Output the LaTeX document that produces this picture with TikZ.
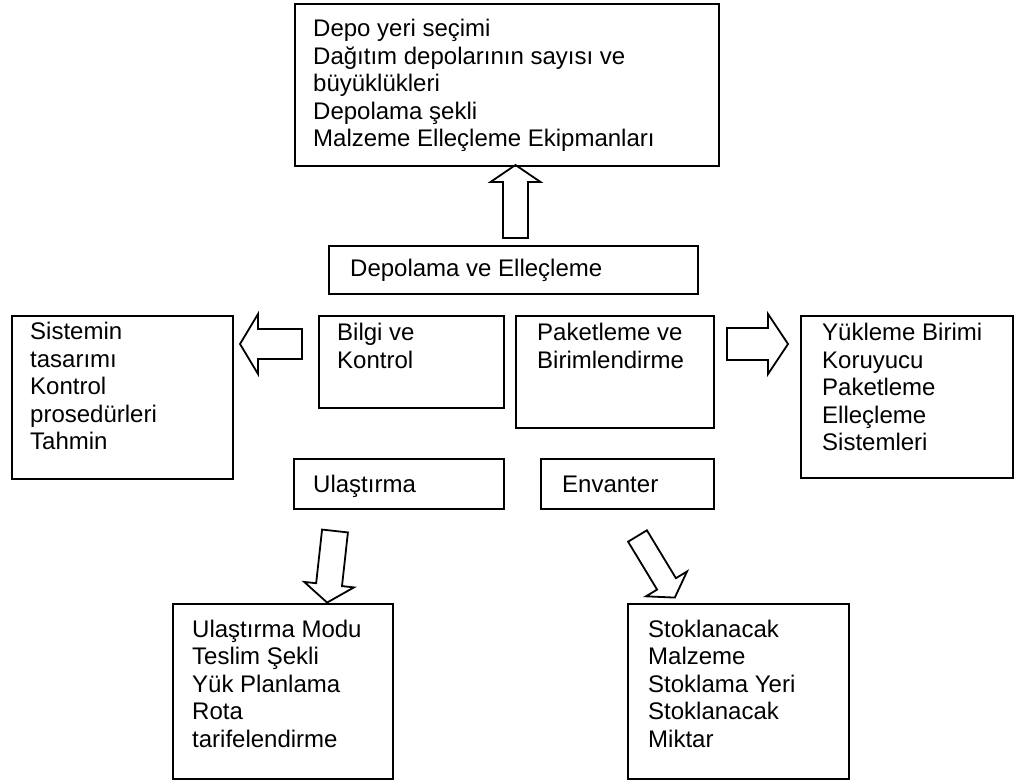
\documentclass[tikz,border=0pt]{standalone}
\usepackage{fontspec}
\setmainfont{Liberation Sans}

% lines of a box, baseline on the first line
\newcommand{\boxlines}[1]{\begin{tabular}[t]{@{}l@{}}#1\end{tabular}}

\tikzset{
  box/.style={draw, line width=1.8pt, anchor=north west, inner sep=0pt},
  boxtext/.style={anchor=base west, inner sep=0pt, font=\fontsize{24}{27.5}\selectfont},
  arrowline/.style={line width=1.8pt, line join=miter},
  % block arrow along +x: length/shaft/head width/head length
  pics/blockarrow/.style args={#1/#2/#3/#4}{code={
    \draw[arrowline] (0,-#2/2) -- (#1-#4,-#2/2) -- (#1-#4,-#3/2) -- (#1,0)
      -- (#1-#4,#3/2) -- (#1-#4,#2/2) -- (0,#2/2) -- cycle;
  }}
}

\begin{document}
\begin{tikzpicture}[x=1pt, y=-1pt]
    \useasboundingbox (0,0) rectangle (1015,783);

    % Draw boxes
    \node[box, minimum width=424pt, minimum height=162pt] (depoyeri) at (294,3) {};
    \node[box, minimum width=369pt, minimum height=48pt] (depolama) at (328,245) {};
    \node[box, minimum width=185pt, minimum height=92pt] (bilgi) at (318,315) {};
    \node[box, minimum width=198pt, minimum height=112pt] (paket) at (515,315) {};
    \node[box, minimum width=221pt, minimum height=163pt] (sistem) at (11,315) {};
    \node[box, minimum width=212pt, minimum height=162pt] (yukleme) at (800,315) {};
    \node[box, minimum width=210pt, minimum height=50pt] (ulastirma) at (293,458) {};
    \node[box, minimum width=173pt, minimum height=50pt] (envanter) at (540,458) {};
    \node[box, minimum width=220pt, minimum height=175pt] (ulasmod) at (172,603) {};
    \node[box, minimum width=221pt, minimum height=175pt] (stok) at (627,603) {};

    % Texts
    \node[boxtext] (depoyeri-t) at (313,37) {\boxlines{Depo yeri seçimi\\Dağıtım depolarının sayısı ve\\büyüklükleri\\Depolama şekli\\Malzeme Elleçleme Ekipmanları}};
    \node[boxtext] (depolama-t) at (350,277) {Depolama ve Elleçleme};
    \node[boxtext] (bilgi-t) at (337,341) {\boxlines{Bilgi ve\\Kontrol}};
    \node[boxtext] (paket-t) at (537,341) {\boxlines{Paketleme ve\\Birimlendirme}};
    \node[boxtext] (sistem-t) at (30,340) {\boxlines{Sistemin\\tasarımı\\Kontrol\\prosedürleri\\Tahmin}};
    \node[boxtext] (yukleme-t) at (822,341) {\boxlines{Yükleme Birimi\\Koruyucu\\Paketleme\\Elleçleme\\Sistemleri}};
    \node[boxtext] (ulastirma-t) at (313,492) {Ulaştırma};
    \node[boxtext] (envanter-t) at (562,492) {Envanter};
    \node[boxtext] (ulasmod-t) at (192,637) {\boxlines{Ulaştırma Modu\\Teslim Şekli\\Yük Planlama\\Rota\\tarifelendirme}};
    \node[boxtext] (stok-t) at (648,637) {\boxlines{Stoklanacak\\Malzeme\\Stoklama Yeri\\Stoklanacak\\Miktar}};

    % Block arrows
    \pic[rotate=90] (up) at (515.5,238) {blockarrow=73/25/50/17};
    \pic[rotate=180] (left) at (302,344) {blockarrow=62/30/60/18};
    \pic (right) at (727,344) {blockarrow=61/32/60/20};
    \pic[rotate=-96.3] (down1) at (335,531) {blockarrow=72/26/50/18};
    \pic[rotate=-58.8] (down2) at (637.5,536) {blockarrow=72/22/48/16};
\end{tikzpicture}
\end{document}
